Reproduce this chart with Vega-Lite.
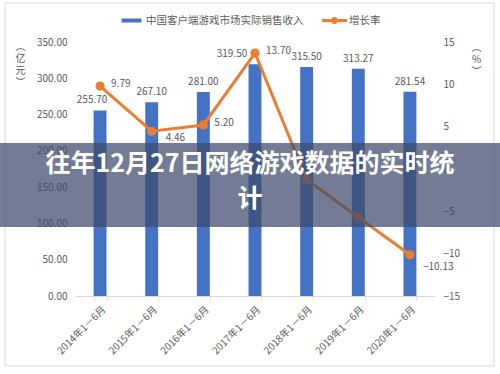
{
  "$schema": "https://vega.github.io/schema/vega-lite/v6.json",
  "width": 360,
  "height": 254,
  "autosize": {"type": "none"},
  "padding": {"left": 75, "top": 42, "right": 65, "bottom": 78},
  "background": "white",
  "config": {
    "font": "Noto Sans CJK SC",
    "view": {"stroke": null},
    "axis": {
      "labelFont": "Noto Sans CJK SC",
      "labelColor": "#595959",
      "labelFontSize": 10,
      "titleFont": "Noto Sans CJK SC",
      "titleColor": "#595959",
      "titleFontWeight": "normal",
      "titleFontSize": 10,
      "grid": false,
      "domain": false,
      "ticks": false
    }
  },
  "title": {
    "text": ["往年12月27日网络游戏数据的实时统", "计"],
    "fontSize": 25,
    "fontWeight": "bold",
    "color": "white",
    "font": "Noto Sans CJK SC",
    "anchor": "middle",
    "frame": "group",
    "baseline": "top",
    "offset": 0,
    "dy": 209,
    "dx": -5,
    "lineHeight": 35,
    "zindex": 2
  },
  "data": {
    "values": [
      {"period": "2014年1－6月", "revenue": 255.70, "growth": 9.79},
      {"period": "2015年1－6月", "revenue": 267.10, "growth": 4.46},
      {"period": "2016年1－6月", "revenue": 281.00, "growth": 5.20},
      {"period": "2017年1－6月", "revenue": 319.50, "growth": 13.70},
      {"period": "2018年1－6月", "revenue": 315.50, "growth": -1.25},
      {"period": "2019年1－6月", "revenue": 313.27, "growth": -5.7},
      {"period": "2020年1－6月", "revenue": 281.54, "growth": -10.13}
    ]
  },
  "layer": [
    {
      "data": {"values": [{}]},
      "mark": {"type": "rect", "fillOpacity": 0, "stroke": "#d9d9d9", "strokeWidth": 1, "x": -70, "x2": 419, "y": -39, "y2": 324},
      "encoding": {}
    },
    {
      "encoding": {
        "x": {
          "field": "period", "type": "nominal", "sort": null,
          "scale": {"paddingInner": 0.75, "paddingOuter": 0.36},
          "axis": {"title": null, "labelAngle": -45, "domain": true, "domainColor": "#d9d9d9", "ticks": true, "tickColor": "#d9d9d9", "tickBand": "extent", "tickSize": 4, "labelPadding": 4}
        },
        "y": {
          "field": "revenue", "type": "quantitative",
          "scale": {"domain": [0, 350], "nice": false},
          "axis": {
            "title": ["︵", "亿", "元", "︶"],
            "values": [0, 50, 100, 150, 200, 250, 300, 350],
            "format": ".2f",
            "labelPadding": 8,
            "titleAngle": 0,
            "titleX": -55,
            "titleY": -1,
            "titleBaseline": "top",
            "titleAlign": "center",
            "titleLineHeight": 12
          }
        }
      },
      "layer": [
        {
          "mark": {"type": "bar"},
          "encoding": {
            "color": {
              "datum": "中国客户端游戏市场实际销售收入",
              "type": "nominal",
              "scale": {"domain": ["中国客户端游戏市场实际销售收入", "增长率"], "range": ["#4472C4", "#ED7D31"]},
              "legend": {
                "title": null,
                "orient": "none",
                "legendX": 44,
                "legendY": -34,
                "direction": "horizontal",
                "labelFontSize": 10.5,
                "labelColor": "#595959",
                "labelFont": "Noto Sans CJK SC",
                "symbolSize": 625,
                "labelOffset": 2,
                "columnPadding": 18,
                "symbolStrokeWidth": 0,
                "encode": {
                  "symbols": {
                    "update": {
                      "shape": {"signal": "datum.value === '增长率' ? 'M-1,-0.12H1V0.12H-1Z M0.28,0 A0.28,0.28 0 1,1 -0.28,0 A0.28,0.28 0 1,1 0.28,0Z' : 'M-0.8,-0.16H0.8V0.16H-0.8Z'"},
                      "fill": {"signal": "datum.value === '增长率' ? '#ED7D31' : '#4472C4'"},
                      "opacity": {"value": 1}
                    }
                  }
                }
              }
            }
          }
        },
        {
          "transform": [{"filter": "datum.period !== '2017年1－6月' && datum.period !== '2014年1－6月'"}],
          "mark": {"type": "text", "baseline": "bottom", "dy": -5, "fontSize": 10, "color": "#595959"},
          "encoding": {"text": {"field": "revenue", "type": "quantitative", "format": ".2f"}}
        },
        {
          "transform": [{"filter": "datum.period === '2014年1－6月'"}],
          "mark": {"type": "text", "baseline": "bottom", "dy": -5, "dx": -8, "fontSize": 10, "color": "#595959"},
          "encoding": {"text": {"field": "revenue", "type": "quantitative", "format": ".2f"}}
        },
        {
          "transform": [{"filter": "datum.period === '2017年1－6月'"}],
          "mark": {"type": "text", "baseline": "bottom", "dy": -5, "dx": -23, "fontSize": 10, "color": "#595959"},
          "encoding": {"text": {"field": "revenue", "type": "quantitative", "format": ".2f"}}
        }
      ]
    },
    {
      "encoding": {
        "x": {"field": "period", "type": "nominal", "sort": null},
        "y": {
          "field": "growth", "type": "quantitative",
          "scale": {"domain": [-15, 15], "nice": false},
          "axis": {
            "orient": "right",
            "title": ["︵", "%", "︶"],
            "values": [-15, -10, -5, 0, 5, 10, 15],
            "format": "d",
            "labelPadding": 8,
            "titleAngle": 0,
            "titleX": 41,
            "titleY": 0,
            "titleBaseline": "top",
            "titleAlign": "center",
            "titleLineHeight": 12
          }
        }
      },
      "layer": [
        {
          "mark": {"type": "line", "strokeWidth": 3},
          "encoding": {"color": {"datum": "增长率", "type": "nominal"}}
        },
        {
          "mark": {"type": "point", "filled": true, "size": 85, "color": "#ED7D31", "opacity": 1}
        },
        {
          "transform": [{"filter": "datum.period === '2014年1－6月' || datum.period === '2016年1－6月' || datum.period === '2017年1－6月'"}],
          "mark": {"type": "text", "align": "left", "baseline": "middle", "dx": 11, "dy": -2, "fontSize": 10, "color": "#595959"},
          "encoding": {"text": {"field": "growth", "type": "quantitative", "format": ".2f"}}
        },
        {
          "transform": [{"filter": "datum.period === '2015年1－6月'"}],
          "mark": {"type": "text", "align": "left", "baseline": "middle", "dx": 14, "dy": 7, "fontSize": 10, "color": "#595959"},
          "encoding": {"text": {"field": "growth", "type": "quantitative", "format": ".2f"}}
        },
        {
          "transform": [{"filter": "datum.period === '2020年1－6月'"}],
          "mark": {"type": "text", "align": "left", "baseline": "middle", "dx": 13, "dy": 12, "fontSize": 10, "color": "#595959"},
          "encoding": {"text": {"field": "growth", "type": "quantitative", "format": ".2f"}}
        }
      ]
    },
    {
      "data": {"values": [{}]},
      "mark": {"type": "rect", "fill": "#3d4a6b", "opacity": 0.72, "x": -75, "x2": 425, "y": 101, "y2": 185},
      "encoding": {}
    }
  ],
  "resolve": {"scale": {"y": "independent"}}
}
